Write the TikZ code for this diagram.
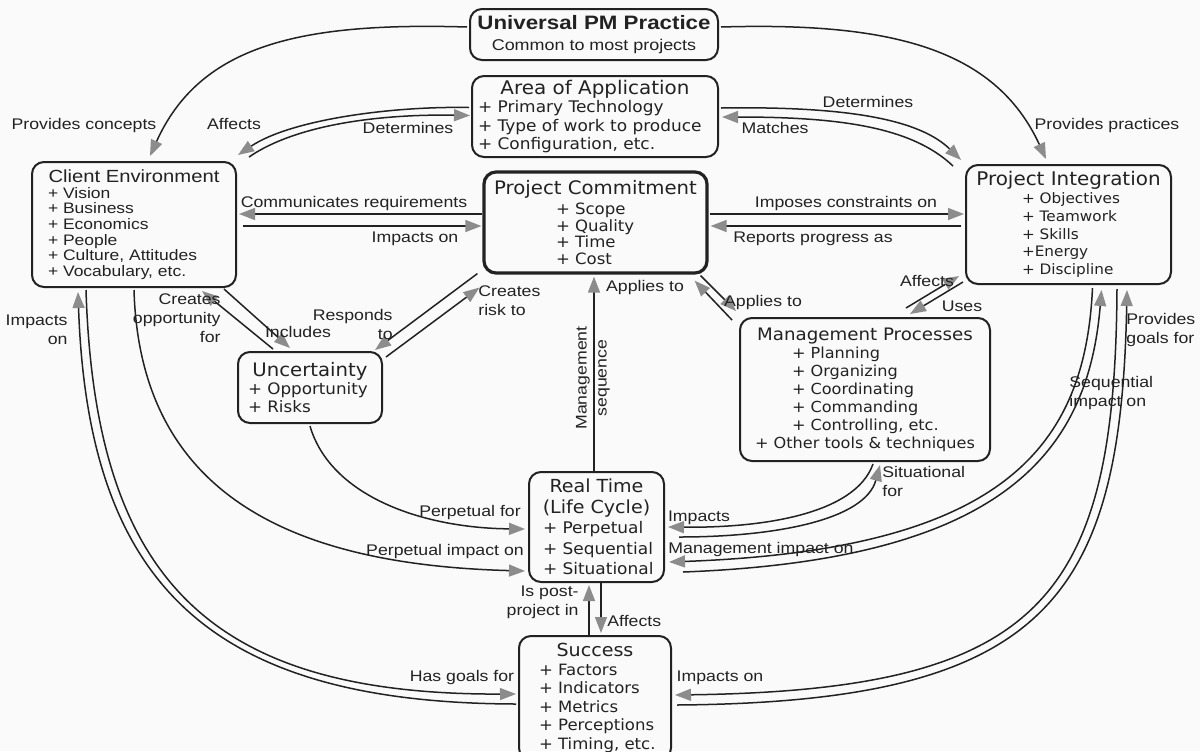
\documentclass[tikz,border=0pt]{standalone}
\usepackage{fontspec}
\usetikzlibrary{arrows.meta}
\newfontfamily\hvfont[FakeStretch=1.15]{Liberation Sans}
\newfontfamily\dvfont[FakeStretch=1.06]{DejaVu Sans}
\definecolor{bgc}{RGB}{250,250,250}
\definecolor{ink}{RGB}{34,34,34}
\definecolor{tipc}{RGB}{140,140,140}
% left-aligned line of fixed width, so that item lists line up inside a centred box
\newcommand{\itm}[2]{\makebox[#1][l]{#2}}

\begin{document}
\begin{tikzpicture}[x=0.5pt,y=-0.5pt,
  box/.style={draw=ink, line width=1pt, rounded corners=6pt, inner sep=0pt, align=center, text=ink},
  lbl/.style={font=\hvfont\fontsize{7.7}{9.5}\selectfont, inner sep=0pt, align=center, text=ink},
  conn/.style={draw=ink, line width=0.75pt, -{Triangle[length=8pt,width=6pt,color=tipc,fill=tipc]}},
]
\useasboundingbox (0,0) rectangle (1200,751);
\fill[bgc] (0,0) rectangle (1200,751);
\clip (0,0) rectangle (1200,751);

% ---------- concept boxes ----------
\node[box, minimum width=124pt, minimum height=25.5pt, font=\hvfont\fontsize{7.8}{10.5}\selectfont] (up) at (594,34.5)
  {{\bfseries\fontsize{9.7}{10.5}\selectfont Universal PM Practice}\\Common to most projects};

\node[box, minimum width=123pt, minimum height=40.5pt, font=\dvfont\fontsize{8}{9.25}\selectfont] (aa) at (595,116.5)
  {{\fontsize{9.4}{9.25}\selectfont Area of Application}\\
   \itm{117pt}{+ Primary Technology}\\ \itm{117pt}{+ Type of work to produce}\\ \itm{117pt}{+ Configuration, etc.}};

\node[box, line width=1.6pt, minimum width=111.5pt, minimum height=50.5pt, font=\dvfont\fontsize{7.8}{8.25}\selectfont] (pc) at (595.5,222.5)
  {{\fontsize{9.3}{9}\selectfont Project Commitment}\\[1.75pt]
   \itm{39.5pt}{+ Scope}\\ \itm{39.5pt}{+ Quality}\\ \itm{39.5pt}{+ Time}\\ \itm{39.5pt}{+ Cost}};

\node[box, minimum width=102pt, minimum height=62.5pt, font=\hvfont\fontsize{7.6}{7.8}\selectfont] (ce) at (134,224.5)
  {{\fontsize{8.8}{8}\selectfont Client Environment}\\[0.2pt]
   \itm{86pt}{+ Vision}\\ \itm{86pt}{+ Business}\\ \itm{86pt}{+ Economics}\\
   \itm{86pt}{+ People}\\ \itm{86pt}{+ Culture, Attitudes}\\ \itm{86pt}{+ Vocabulary, etc.}};

\node[box, minimum width=102.5pt, minimum height=59.5pt, font=\dvfont\fontsize{7.2}{8.9}\selectfont] (pi) at (1068.5,224.5)
  {{\fontsize{9.4}{9}\selectfont Project Integration}\\
   \itm{46.5pt}{+ Objectives}\\ \itm{46.5pt}{+ Teamwork}\\ \itm{46.5pt}{+ Skills}\\
   \itm{46.5pt}{+Energy}\\ \itm{46.5pt}{+ Discipline}};

\node[box, minimum width=72pt, minimum height=35.5pt, font=\dvfont\fontsize{7.9}{9}\selectfont] (un) at (310,387.5)
  {{\fontsize{9.3}{9}\selectfont Uncertainty}\\ \itm{62pt}{+ Opportunity}\\ \itm{62pt}{+ Risks}};

\node[box, minimum width=125pt, minimum height=71.5pt, font=\dvfont\fontsize{7.6}{9}\selectfont] (mp) at (865,389.5)
  {{\fontsize{8.6}{9}\selectfont Management Processes}\\
   \itm{73pt}{+ Planning}\\ \itm{73pt}{+ Organizing}\\ \itm{73pt}{+ Coordinating}\\
   \itm{73pt}{+ Commanding}\\ \itm{73pt}{+ Controlling, etc.}\\ + Other tools \& techniques};

\node[box, minimum width=67.5pt, minimum height=55pt, font=\dvfont\fontsize{8}{10.2}\selectfont] (rt) at (596.5,527)
  {{\fontsize{9}{10}\selectfont Real Time}\\{\fontsize{9}{10}\selectfont (Life Cycle)}\\
   \itm{53.5pt}{+ Perpetual}\\ \itm{53.5pt}{+ Sequential}\\ \itm{53.5pt}{+ Situational}};

% the lower edge of this box runs past the bottom of the page
\node[box, minimum width=76pt, minimum height=62pt, font=\dvfont\fontsize{7.8}{9.25}\selectfont] (su) at (595,698)
  {{\fontsize{9}{9.25}\selectfont Success}\\ \itm{56pt}{+ Factors}\\ \itm{56pt}{+ Indicators}\\
   \itm{56pt}{+ Metrics}\\ \itm{56pt}{+ Perceptions}\\ \itm{56pt}{+ Timing, etc.}};

% ---------- relations ----------
\draw[conn] ([shift={(-2,-7.5)}]up.west) .. controls (300,22) and (200,45) .. ([shift={(16,-5)}]ce.north);
\draw[conn] ([shift={(2,-7.5)}]up.east) .. controls (890,22) and (995,48) .. ([shift={(-22.5,-5)}]pi.north);

\draw[conn] ([shift={(-2,-9)}]aa.west) .. controls (390,106) and (290,120) .. ([shift={(1,-6)}]ce.north east);
\draw[conn] ([shift={(12,-4)}]ce.north east) .. controls (300,122) and (390,114) .. ([shift={(-1,-1)}]aa.west);

\draw[conn] ([shift={(2,-8.5)}]aa.east) .. controls (850,106) and (920,120) .. ([shift={(-4,-4)}]pi.north west);
\draw[conn] ([shift={(-12,2)}]pi.north west) .. controls (912,127) and (840,117) .. ([shift={(3,0.5)}]aa.east);

\draw[conn] ([shift={(0,-8.5)}]pc.west) -- ([shift={(2,-10.5)}]ce.east);
\draw[conn] ([shift={(6,1.5)}]ce.east) -- ([shift={(-1,3.5)}]pc.west);
\draw[conn] ([shift={(1,-8.5)}]pc.east) -- ([shift={(-1,-10.5)}]pi.west);
\draw[conn] ([shift={(-4,1.5)}]pi.west) -- ([shift={(2,3.5)}]pc.east);

\draw[conn] ([shift={(36,-2)}]un.north west) -- ([shift={(68,3)}]ce.south);
\draw[conn] ([shift={(-13,1)}]ce.south east) -- ([shift={(53,-3)}]un.north west);

\draw[conn] ([shift={(-5,-1)}]pc.south west) -- ([shift={(-8,-1)}]un.north east);
\draw[conn] ([shift={(3,6)}]un.north east) -- ([shift={(-3,13)}]pc.south west);

\draw[conn] ([shift={(-8,1)}]pc.south east) -- ([shift={(-3,-6)}]mp.north west);
\draw[conn] ([shift={(-7,3)}]mp.north west) -- ([shift={(-14,6)}]pc.south east);

\draw[conn] ([shift={(41,-9)}]mp.north) -- ([shift={(-6,-9)}]pi.south west);
\draw[conn] ([shift={(-2,-3)}]pi.south west) -- ([shift={(45,-3)}]mp.north);

\draw[conn] ([shift={(-2.5,0)}]rt.north) -- ([shift={(-1.5,2)}]pc.south);

\draw[conn] ([shift={(0,2)}]un.south) .. controls (330,495) and (420,528) .. ([shift={(-3,2)}]rt.west);
\draw[conn] ([shift={(0,2)}]ce.south) .. controls (140,500) and (300,565) .. ([shift={(-3,44)}]rt.west);

\draw[conn] ([shift={(8,2)}]mp.south) .. controls (855,515) and (760,528) .. ([shift={(3,0)}]rt.east);
\draw[conn] ([shift={(14,10)}]rt.east) .. controls (775,537) and (865,520) .. ([shift={(15,3)}]mp.south);

\draw[conn] ([shift={(24,3)}]pi.south) .. controls (1085,450) and (1000,550) .. ([shift={(4,35)}]rt.east);
\draw[conn] ([shift={(18,45)}]rt.east) .. controls (1000,560) and (1088,455) .. ([shift={(33,5)}]pi.south);

\draw[conn] ([shift={(-6,0)}]su.north) -- ([shift={(-7.5,2)}]rt.south);
\draw[conn] ([shift={(4.5,0)}]rt.south) -- ([shift={(6,-2)}]su.north);

\draw[conn] ([shift={(-48,2)}]ce.south) .. controls (95,580) and (210,695) .. ([shift={(-2,-4)}]su.west);
\draw[conn] ([shift={(-2,6)}]su.west) .. controls (208,703) and (88,583) .. ([shift={(-56,4)}]ce.south);

\draw[conn] ([shift={(48.5,4)}]pi.south) .. controls (1115,600) and (1040,690) .. ([shift={(3,-3)}]su.east);
\draw[conn] ([shift={(5,7)}]su.east) .. controls (1045,702) and (1121,600) .. ([shift={(58.5,5)}]pi.south);

% ---------- relation labels ----------
\node[lbl] (t1) at (84,126) {Provides concepts};
\node[lbl] (t2) at (1107,126) {Provides practices};
\node[lbl] (t3) at (234,124) {Affects};
\node[lbl] (t4) at (408,128) {Determines};
\node[lbl] (t5) at (868,102) {Determines};
\node[lbl] (t6) at (775,128) {Matches};
\node[lbl] (t7) at (354,204) {Communicates requirements};
\node[lbl] (t8) at (415,239) {Impacts on};
\node[lbl] (t9) at (846,204) {Imposes constraints on};
\node[lbl] (t10) at (813,239) {Reports progress as};
\node[lbl, anchor=east, align=right] (t11) at (221,318) {Creates\\opportunity\\for};
\node[lbl] (t12) at (298,332) {Includes};
\node[lbl, anchor=east, align=right] (t13) at (393,324) {Responds\\to};
\node[lbl, anchor=west, align=left] (t14) at (478,301) {Creates\\risk to};
\node[lbl] (t15) at (645,288) {Applies to};
\node[lbl] (t16) at (763,303) {Applies to};
\node[lbl] (t17) at (927,281) {Affects};
\node[lbl] (t18) at (962,306) {Uses};
\node[lbl, rotate=90, font=\hvfont\fontsize{7.7}{10}\selectfont] (t19) at (593,378) {Management\\sequence};
\node[lbl] (t20) at (470,513) {Perpetual for};
\node[lbl] (t21) at (445,552) {Perpetual impact on};
\node[lbl] (t22) at (699,518) {Impacts};
\node[lbl, anchor=west, align=left] (t23) at (882,481) {Situational\\for};
\node[lbl] (t24) at (761,550) {Management impact on};
\node[lbl, anchor=west, align=left] (t25) at (1069,393) {Sequential\\impact on};
\node[lbl, anchor=west, align=left] (t26) at (1126,330) {Provides\\goals for};
\node[lbl, anchor=east, align=right] (t27) at (68,330) {Impacts\\on};
\node[lbl, anchor=east, align=right] (t28) at (579,602) {Is post-\\project in};
\node[lbl, anchor=west] (t29) at (607,621) {Affects};
\node[lbl] (t30) at (462,678) {Has goals for};
\node[lbl] (t31) at (720,678) {Impacts on};
\end{tikzpicture}
\end{document}
